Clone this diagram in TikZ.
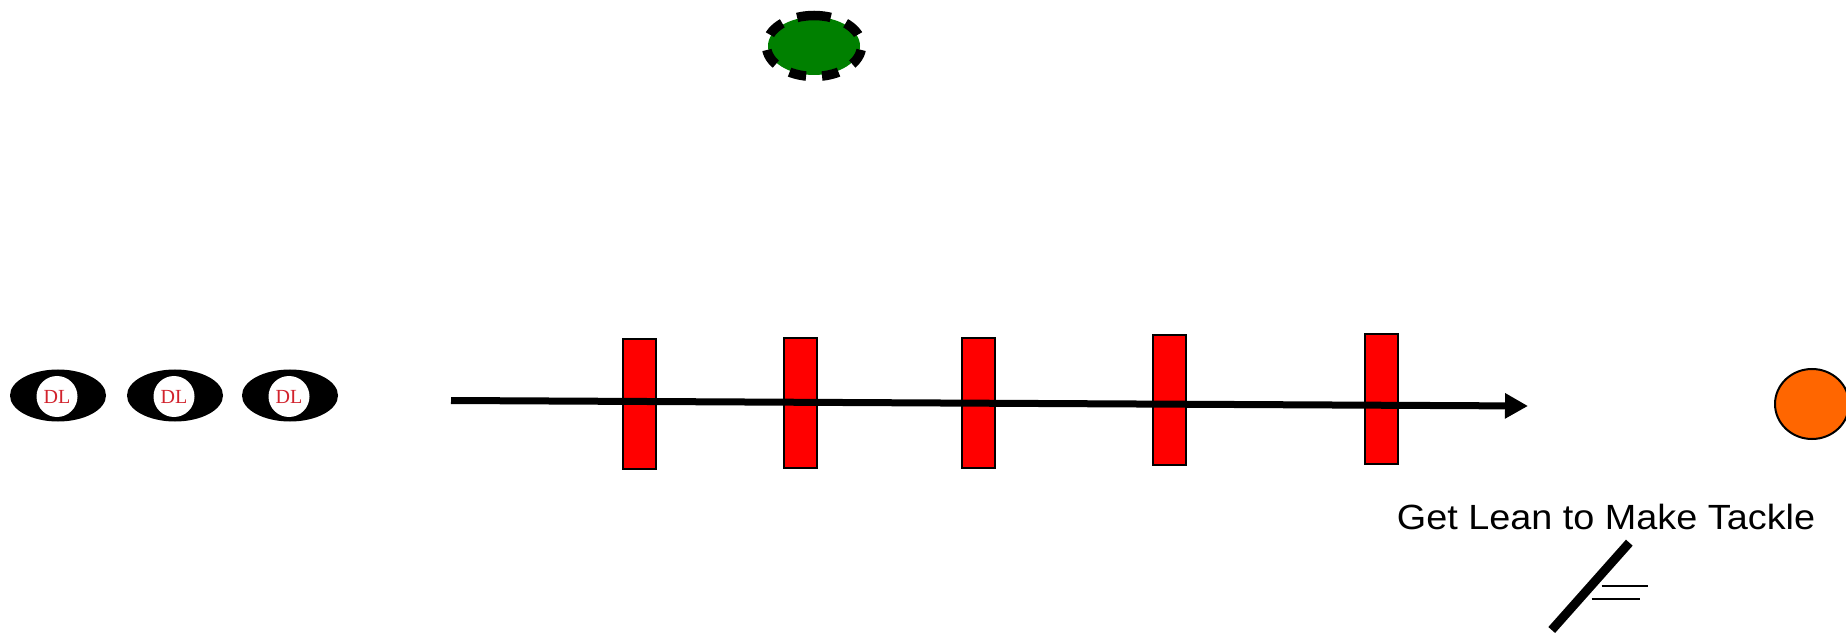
\documentclass[tikz,border=0pt]{standalone}
\usepackage{fontspec}
\newfontfamily\arialf{Liberation Sans}
\newfontfamily\timesf{Liberation Serif}
\usetikzlibrary{arrows.meta,shapes.geometric}
\definecolor{dlred}{RGB}{210,35,45}
\definecolor{orng}{RGB}{255,102,0}
\definecolor{grn}{RGB}{0,128,0}
\begin{document}
\begin{tikzpicture}[x=1pt,y=1pt,
  dlbody/.style={ellipse, fill=black, minimum width=96pt, minimum height=52pt, inner sep=0pt},
  dlface/.style={circle, fill=white, minimum size=41pt, inner sep=0pt, text=dlred, font=\timesf\fontsize{20}{20}\selectfont},
  bag/.style={rectangle, draw=black, line width=2pt, fill=red, minimum width=33pt, minimum height=130pt, inner sep=0pt},
  ballc/.style={ellipse, draw=black, line width=2pt, fill=orng, minimum width=74pt, minimum height=70pt, inner sep=0pt},
  runline/.style={line width=7pt, -{Triangle[length=23pt,width=24pt]}},
  thin/.style={line width=2pt}]
\useasboundingbox (0,0) rectangle (1846,635);
% coach
\fill[grn] (814,589) ellipse [x radius=46, y radius=29];
\draw[line width=9.5pt, dash pattern=on 17pt off 16pt] (814,619.5) arc [start angle=90, end angle=450, x radius=47.5, y radius=30.5];
% DL
\node[dlbody] (b1) at (58,239.5) {};
\node[dlbody] (b2) at (175,239.5) {};
\node[dlbody] (b3) at (290,239.5) {};
\node[dlface] (d1) at (57,238.5) {DL};
\node[dlface] (d2) at (174,238.5) {DL};
\node[dlface] (d3) at (289,238.5) {DL};
% bags
\node[bag] (r1) at (639.5,231) {};
\node[bag] (r2) at (800.5,232) {};
\node[bag] (r3) at (978.5,232) {};
\node[bag] (r4) at (1169,235) {};
\node[bag] (r5) at (1381.5,236) {};
% run line
\coordinate (s) at (451,234.5);
\coordinate (e) at (1528,229);
\draw[runline] (s) -- (e);
% ball carrier
\node[ballc] (ball) at (1812,231) {};
% label
\node[anchor=base, font=\arialf\fontsize{35}{40}\selectfont, inner sep=0pt] (lbl) at (1606,105.7) {\scalebox{1.08}[1]{Get Lean to Make Tackle}};
% tackler
\coordinate (t1) at (1629.3,92.3);
\coordinate (t2) at (1551.7,5);
\draw[line width=9pt] (t1) -- (t2);
\coordinate (h1a) at (1601.7,49);
\coordinate (h1b) at (1648.3,49);
\coordinate (h2a) at (1591.7,35.7);
\coordinate (h2b) at (1640,35.7);
\draw[thin] (h1a) -- (h1b);
\draw[thin] (h2a) -- (h2b);
\end{tikzpicture}
\end{document}
